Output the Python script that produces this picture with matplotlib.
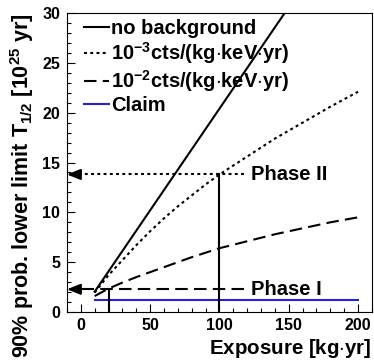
import matplotlib
matplotlib.use('Agg')
import matplotlib.pyplot as plt
from matplotlib.ticker import MultipleLocator

plt.rcParams['font.family'] = ['Liberation Sans', 'DejaVu Sans']
plt.rcParams['font.weight'] = 'bold'
plt.rcParams['mathtext.fontset'] = 'custom'
plt.rcParams['mathtext.rm'] = 'Liberation Sans:bold'
plt.rcParams['mathtext.bf'] = 'Liberation Sans:bold'
plt.rcParams['mathtext.it'] = 'Liberation Sans:bold:italic'

# exposure [kg yr] and lower limits [1e25 yr]
exposure = [10, 20, 30, 40, 50, 60, 70, 80, 90, 100, 120, 140, 160, 180, 200]
no_bkg_x = [10, 150]
no_bkg_y = [2.04, 30.6]
bkg_1e3 = [1.95, 3.7, 5.2, 6.7, 8.1, 9.4, 10.6, 11.7, 12.8, 13.8, 15.6, 17.4, 19.0, 20.6, 22.1]
bkg_1e2 = [1.6, 2.35, 2.95, 3.5, 4.0, 4.5, 5.0, 5.5, 5.95, 6.4, 7.1, 7.8, 8.4, 9.0, 9.5]
claim_x = [10, 200]
claim_y = [1.2, 1.2]

phase1 = (20, 2.28)
phase2 = (100, 13.8)
label_x = 118

fig = plt.figure(figsize=(3.74, 3.6), dpi=100)
ax = fig.add_axes([0.179, 0.1333, 0.8155, 0.8306])

lw = 1.5
dotted = (0, (1.4, 1.6))
dashed = (0, (6, 3))
ax.plot(no_bkg_x, no_bkg_y, color='k', lw=lw, label='no background')
ax.plot(exposure, bkg_1e3, color='k', lw=lw, linestyle=dotted,
        label=r'10$^{-3}$cts/(kg$\cdot$keV$\cdot$yr)')
ax.plot(exposure, bkg_1e2, color='k', lw=lw, linestyle=dashed,
        label=r'10$^{-2}$cts/(kg$\cdot$keV$\cdot$yr)')
ax.plot(claim_x, claim_y, color='#2222dd', lw=lw, label='Claim')

# phase markers: vertical line, horizontal arrow to axis, label
for (px, py), ls, name in [(phase2, dotted, 'Phase II'),
                           (phase1, dashed, 'Phase I')]:
    ax.plot([px, px], [0, py], color='k', lw=lw)
    ax.plot([label_x, -7], [py, py], color='k', lw=lw, linestyle=ls)
    ax.annotate('', xy=(-10, py), xytext=(-3, py),
                arrowprops=dict(arrowstyle='-|>,head_length=0.8,head_width=0.32',
                                color='k', lw=lw, shrinkA=0, shrinkB=0))
    ax.text(label_x + 5, py, name, fontsize=14.5, fontweight='bold',
            va='center', ha='left')

ax.set_xlim(-10, 210)
ax.set_ylim(0, 30)
ax.xaxis.set_major_locator(MultipleLocator(50))
ax.xaxis.set_minor_locator(MultipleLocator(10))
ax.yaxis.set_major_locator(MultipleLocator(5))
ax.yaxis.set_minor_locator(MultipleLocator(1))
ax.tick_params(which='both', direction='in', top=False, right=False, width=0.8)
ax.tick_params(which='major', length=6)
ax.tick_params(which='minor', length=3)
ax.tick_params(axis='y', labelsize=11.5, pad=5)
ax.tick_params(axis='x', labelsize=11.5, pad=4)
for s in ax.spines.values():
    s.set_linewidth(0.8)

ax.set_xlabel(r'Exposure [kg$\cdot$yr]', fontsize=14.8, fontweight='bold', loc='right', labelpad=3)
ax.set_ylabel(r'90% prob. lower limit T$_{1/2}$ [10$^{25}$ yr]', fontsize=15.5,
              fontweight='bold', loc='top', labelpad=4)

ax.legend(loc='upper left', bbox_to_anchor=(0.035, 1.0), frameon=False,
          fontsize=14.5, handlelength=1.25, handletextpad=0.12,
          labelspacing=0.1, borderaxespad=0.1, borderpad=0.2)

fig.savefig('out.png', dpi=100)
